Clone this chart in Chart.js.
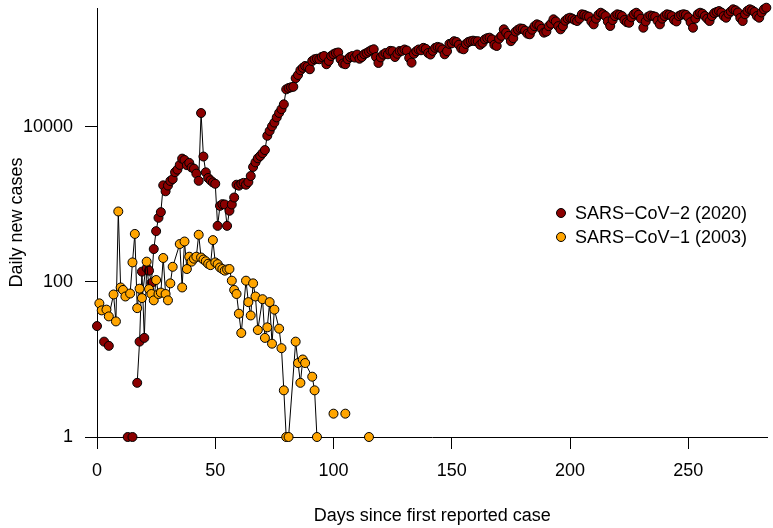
<!DOCTYPE html>
<html>
<head>
<meta charset="utf-8">
<script src="https://cdn.jsdelivr.net/npm/chart.js@4.4.0/dist/chart.umd.min.js"></script>
<style>
  html, body { margin: 0; padding: 0; background: #fff; }
</style>
</head>
<body>
<canvas id="chart" width="773" height="528"></canvas>
<script>
// SARS-CoV-2 (2020): daily new cases, one value per day since first report (null = no cases)
var cov2_cases = [
  27, null, null, 17, null, 15, null, null, null, null, null, null, null, 1, null, 1, null, 5, 17, 136,
  19, 151, 140, 97, 266, 453, 673, 797, 1767, 1480,
  1755, 2010, 2127, 2608, 2818, 3243, 3907, 3751, 3218, 3442,
  3000, 2900, 2500, 2020, 15141, 4156, 2600, 2200, 2050, 1930,
  1850, 530, 960, 1010, 1000, 530, 830, 1000, 1230, 1800,
  1750, 1850, 1900, 1800, 1950, 2330, 3050, 3500, 3950, 4230,
  4600, 5040, 7700, 8900, 10200, 11400, 13300, 15200, 17000, 19600,
  30600, 31800, 32500, 33000, 42600, 46900, 54000, 58000, 61300, 60000,
  55600, 71100, 74800, 76000, 74800, 80000, 82400, 64500, 71100, 82400,
  87000, 90000, 91500, 74800, 66000, 64500, 75000, 80000, 82400, 78700,
  86000, 76000, 80000, 87000, 90000, 94000, 98000, 100700, 80000, 67000,
  79000, 86000, 90000, 86700, 96000, 95000, 80000, 88000, 95700, 96000,
  100000, 97000, 78000, 67600, 88000, 95000, 100000, 97700, 105000, 102000,
  90000, 86000, 96000, 105000, 108000, 106000, 100000, 86700, 95000, 118000,
  120000, 128000, 125000, 115000, 103000, 100600, 118000, 125000, 128000, 130000,
  128000, 128000, 115000, 122000, 135000, 140000, 142000, 135000, 115000, 111000,
  138000, 150000, 182000, 165000, 150000, 128000, 140000, 170000, 180000, 187000,
  185000, 175000, 160000, 157000, 180000, 200000, 211000, 205000, 185000, 165000,
  170000, 200000, 215000, 245000, 230000, 200000, 182000, 200000, 235000, 250000,
  257000, 250000, 240000, 233000, 250000, 284000, 280000, 270000, 265000, 230000,
  211000, 250000, 280000, 298000, 285000, 270000, 230000, 201000, 240000, 270000,
  284000, 280000, 270000, 240000, 225000, 221000, 260000, 285000, 298000, 280000,
  250000, 191000, 230000, 265000, 275000, 270000, 265000, 235000, 211000, 250000,
  270000, 284000, 280000, 270000, 240000, 230000, 270000, 280000, 285000, 280000,
  260000, 225000, 191000, 250000, 285000, 298000, 290000, 270000, 250000, 233000,
  270000, 295000, 305000, 313000, 300000, 270000, 257000, 290000, 310000, 330000,
  320000, 300000, 255000, 233000, 285000, 315000, 330000, 320000, 305000, 270000,
  257000, 300000, 330000, 346000
];

// SARS-CoV-1 (2003): report days and daily new cases (null breaks the line)
var cov1_days = [
  1, 2, 4, 5, 7, 8, 9, 10, 11, 12, 14, 15, 16, 17, 18, 19, 21, 22, 23, 24,
  25, 26, 27, 28, 29, 30, 31, 32, 35, 36, 37, 38, 39, 40, 41, 42, 43, 44, 45, 46,
  47, 48, 49, 50, 51, 52, 53, 54, 55, 56, 57, 58, 59, 60, 61, 63, 64, 65, 66, 67,
  68, 70, 71, 72, 73, 74, 75, 77, 78, 79, 80, 81, 84, 85, 86, 87, 88, 91, 92, 93,
  94, 100, 101, 105, 106, 115
];
var cov1_cases = [
  53, 43, 44, 36, 69, 31, 813, 85, 79, 65, 71, 179, 417, 46, 82, 62, 183, 81, 70, 58,
  106, 70, 73, 204, 70, 58, 96, 157, 309, 85, 333, 147, 212, 183, 200, 212, 407, 207, 195, 185,
  172, 165, 347, 179, 170, 154, 147, 140, 145, 147, 104, 79, 70, 39, 22, 104, 55, 37, 96, 65,
  24, 60, 19, 26, 55, 16, 44, 25, 14, 4, 1, 1, 17, 9, 5, 10, 9, 6, 4, 1,
  null, 2, null, 2, null, 1
];

var series_labels = ['SARS\u2212CoV\u22122 (2020)', 'SARS\u2212CoV\u22121 (2003)'];
var series_colors = ['#8B0000', '#FFA500'];
var x_ticks = [0, 50, 100, 150, 200, 250];
var y_ticks = [1, 100, 10000];

var FONT = "'Liberation Sans', Arial, Helvetica, sans-serif";

var cov2_points = cov2_cases.map(function(v, i) { return { x: i, y: v }; });
var cov1_points = cov1_days.map(function(d, i) { return { x: d, y: cov1_cases[i] }; });

function seriesStyle(color) {
  return {
    showLine: true,
    spanGaps: false,
    borderColor: '#000',
    borderWidth: 1,
    pointRadius: 4.5,
    pointHoverRadius: 4.5,
    pointBackgroundColor: color,
    pointBorderColor: '#000',
    pointBorderWidth: 1,
    clip: false
  };
}

function noPad(scale) {
  scale.paddingTop = 0;
  scale.paddingBottom = 0;
  scale.paddingLeft = 0;
  scale.paddingRight = 0;
}

// legend drawn inside the plot, like base R legend(bty = "n")
var legendPlugin = {
  id: 'insideLegend',
  afterDatasetsDraw: function(chart) {
    var ctx = chart.ctx;
    ctx.save();
    ctx.font = '18px ' + FONT;
    ctx.textBaseline = 'middle';
    ctx.textAlign = 'left';
    for (var i = 0; i < series_labels.length; i++) {
      var y = 213 + i * 24;
      ctx.beginPath();
      ctx.arc(561, y, 4.5, 0, Math.PI * 2);
      ctx.fillStyle = series_colors[i];
      ctx.fill();
      ctx.lineWidth = 1;
      ctx.strokeStyle = '#000';
      ctx.stroke();
      ctx.fillStyle = '#000';
      ctx.fillText(series_labels[i], 575, y + 1);
    }
    ctx.restore();
  }
};

var chart = new Chart(document.getElementById('chart'), {
  type: 'scatter',
  data: {
    datasets: [
      Object.assign({ label: series_labels[1], data: cov1_points }, seriesStyle(series_colors[1])),
      Object.assign({ label: series_labels[0], data: cov2_points }, seriesStyle(series_colors[0]))
    ]
  },
  options: {
    responsive: false,
    animation: false,
    devicePixelRatio: 1,
    layout: { padding: { top: 8, right: 0, left: 0, bottom: 0 } },
    plugins: {
      legend: { display: false },
      tooltip: { enabled: false }
    },
    scales: {
      x: {
        type: 'linear',
        min: 0,
        max: 283.5,
        afterBuildTicks: function(scale) {
          scale.ticks = x_ticks.map(function(v) { return { value: v }; });
        },
        afterFit: function(scale) { scale.height = 91; noPad(scale); },
        border: { display: true, color: '#000', width: 1 },
        grid: { display: true, drawOnChartArea: false, drawTicks: true, tickLength: 12, color: '#000' },
        ticks: {
          color: '#000',
          font: { family: FONT, size: 18 },
          padding: 11,
          maxRotation: 0,
          callback: function(v) { return String(v); }
        },
        title: {
          display: true,
          text: 'Days since first reported case',
          color: '#000',
          font: { family: FONT, size: 18 },
          padding: { top: 0, bottom: 1 }
        }
      },
      y: {
        type: 'logarithmic',
        min: 1,
        max: 343000,
        afterBuildTicks: function(scale) {
          scale.ticks = y_ticks.map(function(v) { return { value: v }; });
        },
        afterFit: function(scale) { scale.width = 97; noPad(scale); },
        border: { display: true, color: '#000', width: 1 },
        grid: { display: true, drawOnChartArea: false, drawTicks: true, tickLength: 12, color: '#000' },
        ticks: {
          color: '#000',
          font: { family: FONT, size: 18 },
          padding: 12,
          callback: function(v) { return String(v); }
        },
        title: {
          display: true,
          text: 'Daily new cases',
          color: '#000',
          font: { family: FONT, size: 18 },
          padding: { top: 6, bottom: 0 }
        }
      }
    }
  },
  plugins: [legendPlugin]
});
</script>
</body>
</html>
